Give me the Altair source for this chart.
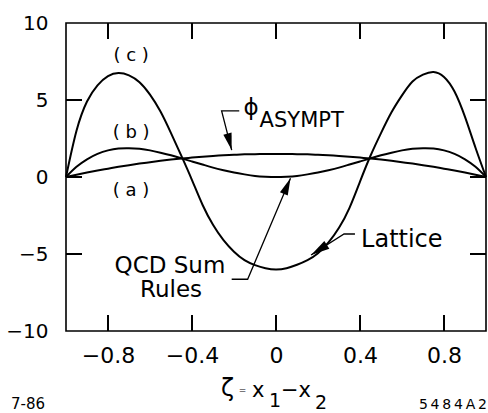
import altair as alt
import pandas as pd

FONT = "DejaVu Sans"

# zeta = x1 - x2 grid
zeta = [-1.0, -0.95, -0.9, -0.85, -0.8, -0.75, -0.7, -0.65, -0.6, -0.55, -0.5,
        -0.45, -0.4, -0.35, -0.3, -0.25, -0.2, -0.15, -0.1, -0.05, 0.0,
        0.05, 0.1, 0.15, 0.2, 0.25, 0.3, 0.35, 0.4, 0.45, 0.5,
        0.55, 0.6, 0.65, 0.7, 0.75, 0.8, 0.85, 0.9, 0.95, 1.0]

# (a) asymptotic distribution amplitude
phi_asympt = [0.0, 0.15, 0.29, 0.42, 0.54, 0.66, 0.77, 0.87, 0.96, 1.05, 1.13,
              1.2, 1.26, 1.32, 1.37, 1.41, 1.44, 1.47, 1.48, 1.5, 1.5,
              1.5, 1.48, 1.47, 1.44, 1.41, 1.37, 1.32, 1.26, 1.2, 1.13,
              1.05, 0.96, 0.87, 0.77, 0.66, 0.54, 0.42, 0.29, 0.15, 0.0]

# (b) QCD sum rules
phi_sum_rules = [0.0, 0.66, 1.15, 1.5, 1.73, 1.85, 1.87, 1.83, 1.73, 1.58, 1.41,
                 1.21, 1.01, 0.81, 0.61, 0.44, 0.29, 0.17, 0.07, 0.02, 0.0,
                 0.02, 0.07, 0.17, 0.29, 0.44, 0.61, 0.81, 1.01, 1.21, 1.41,
                 1.58, 1.73, 1.83, 1.87, 1.85, 1.73, 1.5, 1.15, 0.66, 0.0]

# (c) lattice
phi_lattice = [0.0, 3.0, 4.9, 5.95, 6.55, 6.75, 6.6, 6.15, 5.35, 4.25, 2.85,
               1.35, -0.2, -1.8, -3.1, -4.1, -4.85, -5.4, -5.72, -5.92, -6.0,
               -5.92, -5.7, -5.4, -4.95, -4.25, -3.3, -2.0, -0.3, 1.38, 2.85,
               4.2, 5.3, 6.2, 6.65, 6.82, 6.5, 5.55, 3.9, 1.9, 0.0]

x_ticks = [-0.8, -0.4, 0.0, 0.4, 0.8]
y_ticks = [-10, -5, 0, 5, 10]
y_inner_ticks = [-5, 0, 5]

X_MIN, X_MAX = -1.0, 1.0
Y_MIN, Y_MAX = -10.0, 10.0
W, H = 420, 308
TICK = 16  # inner tick length in pixels

rows = []
for name, vals in (("a", phi_asympt), ("b", phi_sum_rules), ("c", phi_lattice)):
    for z, v in zip(zeta, vals):
        rows.append({"zeta": z, "value": v, "curve": name})
curves_df = pd.DataFrame(rows)

xs = alt.Scale(domain=[X_MIN, X_MAX], nice=False, zero=False)
ys = alt.Scale(domain=[Y_MIN, Y_MAX], nice=False, zero=False)

xaxis = alt.Axis(
    values=x_ticks, title=None, grid=False, domain=False, ticks=False, tickSize=0,
    labelFont=FONT, labelFontSize=22, labelColor="black", labelPadding=14,
    labelOverlap=False, labelFlush=False,
    labelExpr="datum.value < 0 ? '\u2212' + format(-datum.value, '.1f') + '\u2007'"
              " : (datum.value == 0 ? '0' : format(datum.value, '.1f'))",
)
yaxis = alt.Axis(
    values=y_ticks, title=None, grid=False, domain=False, ticks=False, tickSize=0,
    labelFont=FONT, labelFontSize=20, labelColor="black", labelPadding=18,
    labelOverlap=False, labelFlush=False,
    labelExpr="datum.value < 0 ? '\u2212' + format(-datum.value, 'd') : format(datum.value, 'd')",
)


def X(field):
    return alt.X(field, type="quantitative", scale=xs, axis=xaxis)


def Y(field):
    return alt.Y(field, type="quantitative", scale=ys, axis=yaxis)


# inner tick marks on all four sides of the frame (tick length converted to data units)
dy = TICK * (Y_MAX - Y_MIN) / H
dx = TICK * (X_MAX - X_MIN) / W
vt = pd.DataFrame({
    "x": x_ticks * 2,
    "y1": [Y_MAX] * len(x_ticks) + [Y_MIN] * len(x_ticks),
    "y2": [Y_MAX - dy] * len(x_ticks) + [Y_MIN + dy] * len(x_ticks),
})
ht = pd.DataFrame({
    "y": y_inner_ticks * 2,
    "x1": [X_MIN] * len(y_inner_ticks) + [X_MAX] * len(y_inner_ticks),
    "x2": [X_MIN + dx] * len(y_inner_ticks) + [X_MAX - dx] * len(y_inner_ticks),
})
vticks = alt.Chart(vt).mark_rule(color="black", strokeWidth=2).encode(
    x=X("x"), y=Y("y1"), y2="y2:Q")
hticks = alt.Chart(ht).mark_rule(color="black", strokeWidth=2).encode(
    y=Y("y"), x=X("x1"), x2="x2:Q")

curves = alt.Chart(curves_df).mark_line(
    color="black", strokeWidth=2, interpolate="natural"
).encode(x=X("zeta"), y=Y("value"), detail="curve:N")

# leader lines for the annotations (zeta, value)
leaders_df = pd.DataFrame({
    "x": [-0.175, -0.259, -0.211, -0.211, -0.135, 0.069, 0.376, 0.324, 0.167],
    "y": [4.29, 4.29, 1.75, -6.64, -6.64, -0.08, -3.70, -3.70, -5.06],
    "grp": ["phi"] * 3 + ["qcd"] * 3 + ["lat"] * 3,
    "ord": [0, 1, 2] * 3,
})
leaders = alt.Chart(leaders_df).mark_line(color="black", strokeWidth=1.3).encode(
    x=X("x"), y=Y("y"), detail="grp:N", order="ord:Q"
)

heads_df = pd.DataFrame({
    "x": [-0.211, 0.069, 0.167],
    "y": [1.75, -0.08, -5.06],
    "a": [165.6, 23.0, 237.5],
    "s": [1156, 1156, 1400],
})
heads = alt.Chart(heads_df).mark_point(
    shape="M0,0L0.25,1L-0.25,1Z", filled=True, color="black", opacity=1, strokeWidth=0
).encode(
    x=X("x"), y=Y("y"),
    angle=alt.Angle("a:Q", scale=None),
    size=alt.Size("s:Q", scale=None),
)


def text_layer(df, size, align, baseline="alphabetic"):
    return alt.Chart(df).mark_text(
        font=FONT, fontSize=size, align=align, baseline=baseline, color="black"
    ).encode(x=X("x"), y=Y("y"), text="t:N")


curve_labels = text_layer(
    pd.DataFrame({"x": [-0.69, -0.69, -0.69], "y": [7.86, 2.86, -0.91],
                  "t": ["( c )", "( b )", "( a )"]}),
    18, "center", "middle",
)
phi_label = text_layer(pd.DataFrame({"x": [-0.119], "y": [4.03], "t": ["\u03d5"]}), 23, "center")
asympt_label = text_layer(pd.DataFrame({"x": [-0.078], "y": [3.25], "t": ["ASYMPT"]}), 21, "left")
qcd_label = text_layer(
    pd.DataFrame({"x": [-0.505, -0.5], "y": [-6.23, -7.79], "t": ["QCD Sum", "Rules"]}),
    23, "center",
)
lattice_label = text_layer(pd.DataFrame({"x": [0.405], "y": [-4.55], "t": ["Lattice"]}), 24, "left")


def free_text(t, px, py, size, align="left", baseline="alphabetic"):
    return alt.Chart(pd.DataFrame({"t": [t]})).mark_text(
        font=FONT, fontSize=size, align=align, baseline=baseline, color="black"
    ).encode(x=alt.value(px), y=alt.value(py), text="t:N")


# axis title: zeta = x1 - x2, built from pieces so the subscripts sit low
title_parts = [
    free_text("\u03b6", 161.5, 373, 24, "center"),
    free_text("=", 176.5, 370, 9, "center"),
    free_text("x", 186, 374, 21, "left"),
    free_text("1", 209, 384, 19, "center"),
    free_text("\u2212x", 215, 374, 21, "left"),
    free_text("2", 255, 386, 19, "center"),
    free_text("7-86", -38, 386, 15, "center"),
    free_text("5\u20094\u20098\u20094\u2009A\u20092", 421, 386, 14, "right"),
]

chart = alt.layer(
    vticks, hticks, curves, leaders, heads,
    curve_labels, phi_label, asympt_label, qcd_label, lattice_label,
    *title_parts,
).properties(
    width=W, height=H,
    padding={"left": 66, "top": 23, "right": 2, "bottom": 82},
    autosize=alt.AutoSizeParams(type="none"),
    background="white",
).configure_view(stroke="black", strokeWidth=1.6)

chart.save("out.html", embed_options={"renderer": "svg", "actions": False})
